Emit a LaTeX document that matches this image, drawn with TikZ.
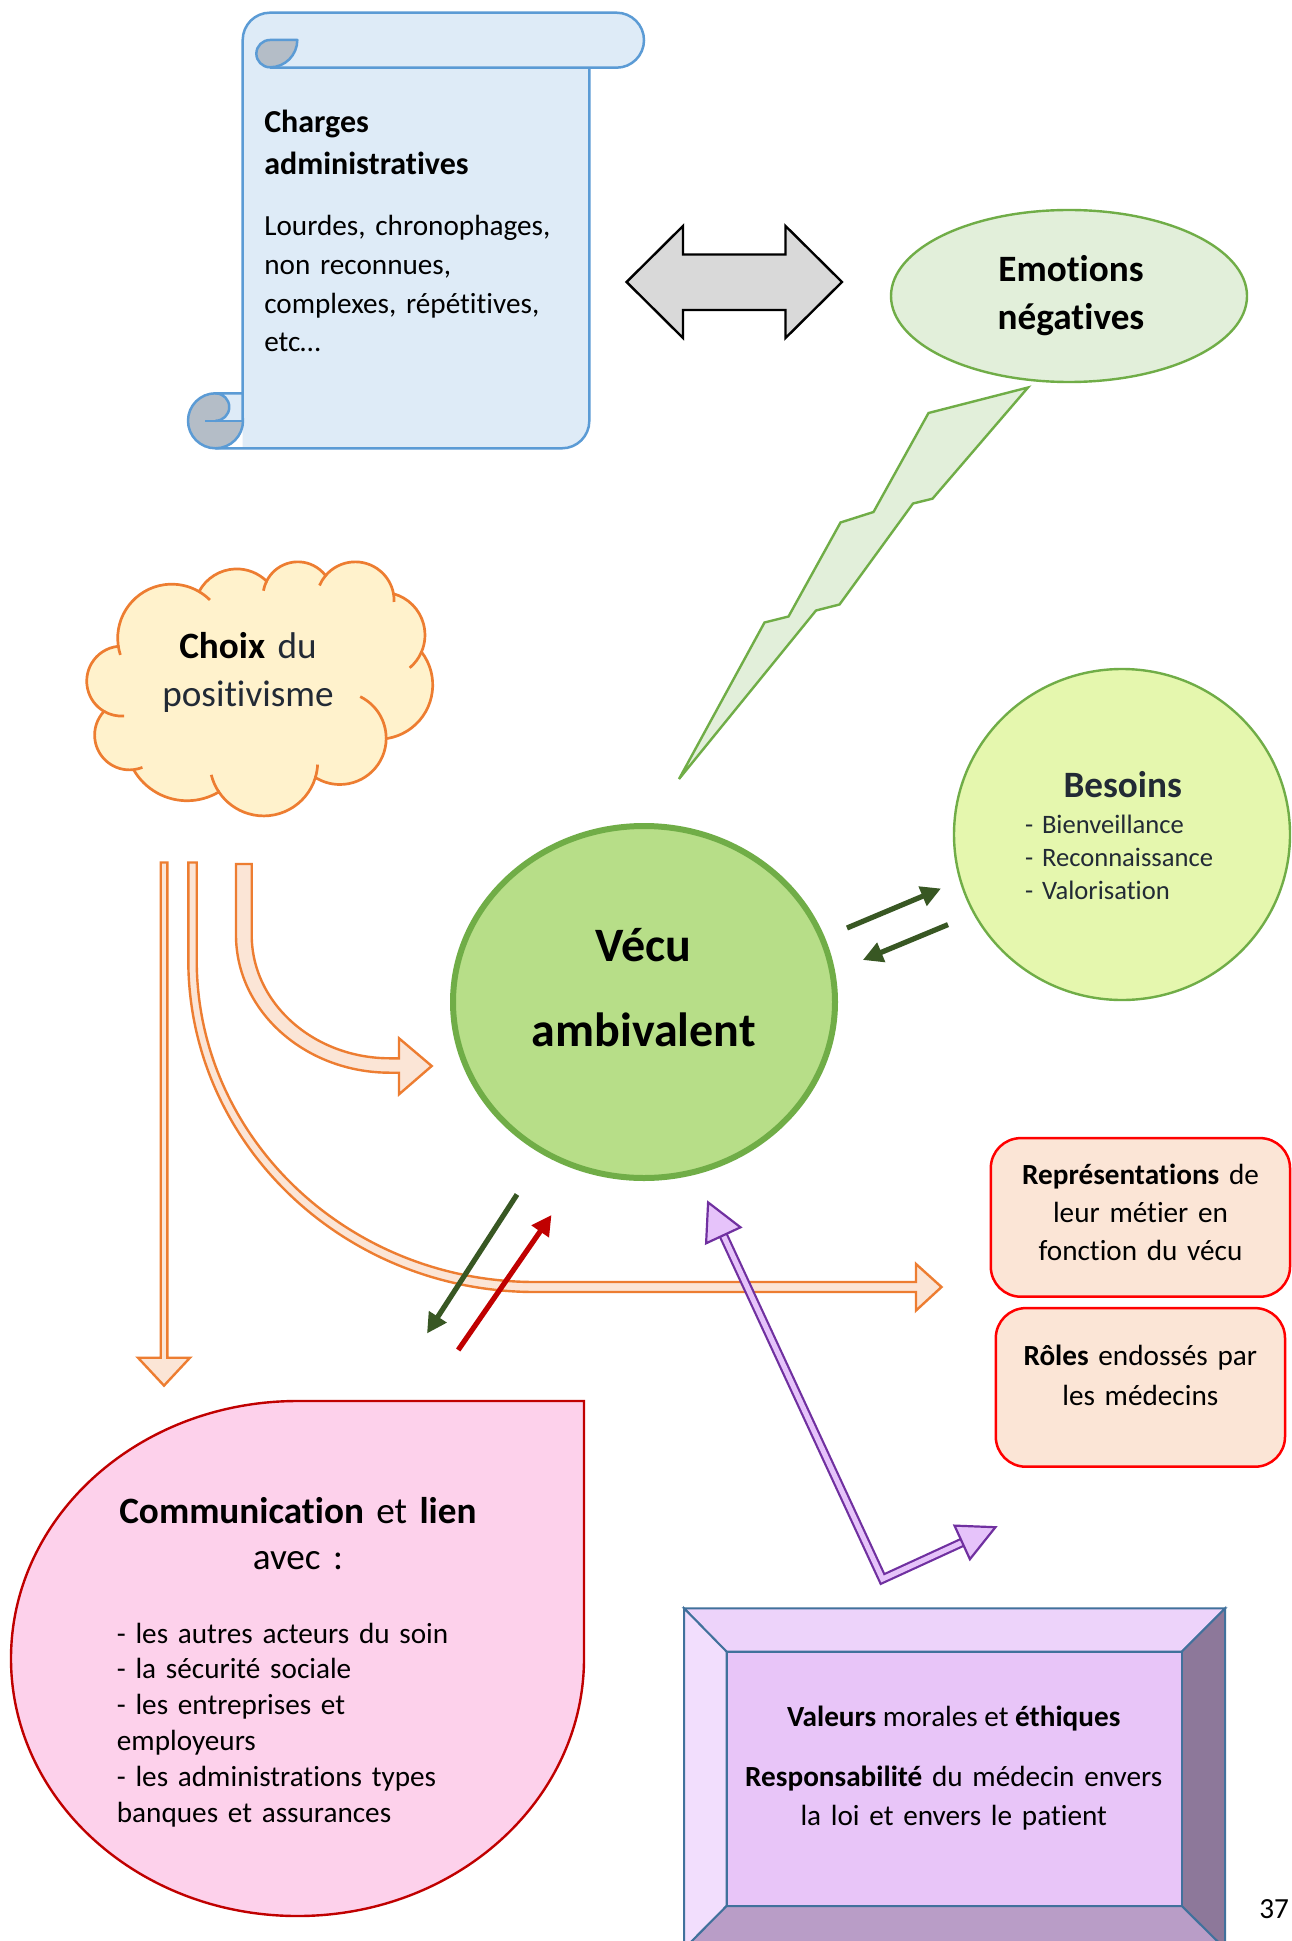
\documentclass[tikz,border=0pt]{standalone}
\usepackage{fontspec}
\setmainfont{Carlito}[Ligatures=CommonOff]
\usetikzlibrary{shapes.geometric,arrows.meta}
\definecolor{scrollfill}{RGB}{222,235,247}
\definecolor{scrollblue}{RGB}{91,155,213}
\definecolor{scrollgray}{RGB}{180,189,199}
\definecolor{leafgreen}{RGB}{112,173,71}
\definecolor{emofill}{RGB}{226,239,218}
\definecolor{vecufill}{RGB}{183,222,136}
\definecolor{besfill}{RGB}{229,247,174}
\definecolor{darktext}{RGB}{34,42,53}
\definecolor{cloudfill}{RGB}{255,242,204}
\definecolor{orline}{RGB}{237,125,49}
\definecolor{orfill}{RGB}{251,229,214}
\definecolor{dkgreen}{RGB}{56,87,35}
\definecolor{redarrow}{RGB}{192,0,0}
\definecolor{purpline}{RGB}{112,48,160}
\definecolor{lavender}{RGB}{230,195,250}
\definecolor{tearfill}{RGB}{253,209,235}
\definecolor{bevline}{RGB}{65,113,156}
\definecolor{bevtop}{RGB}{237,211,250}
\definecolor{bevleft}{RGB}{242,222,253}
\definecolor{bevmid}{RGB}{232,197,248}
\definecolor{bevright}{RGB}{141,120,154}
\definecolor{bevbottom}{RGB}{185,157,199}
\definecolor{dblgray}{RGB}{217,217,217}
\begin{document}
\begin{tikzpicture}[x=0.5pt,y=-0.5pt,
  txt/.style={inner sep=0pt,outer sep=0pt},
  scrolldraw/.style={draw=scrollblue,line width=1.25pt,line join=round},
  orangearrow/.style={fill=orfill,draw=orline,line width=1.2pt,line join=miter},
  cloudst/.style={fill=cloudfill,draw=orline,line width=1.35pt},
  cloudtick/.style={draw=orline,line width=1.35pt},
  thinarrow/.style={line width=2.6pt,-{Triangle[length=10pt,width=10pt]}},
  purpband/.style={draw=purpline,line width=1.1pt,double=lavender,double distance=2.55pt,line join=miter},
  purphead/.style={fill=lavender,draw=purpline,line width=1.1pt,line join=miter},
  roundbox/.style={rectangle,rounded corners=15pt,fill=orfill,draw=red,line width=1.25pt,minimum width=149.6pt,minimum height=79.3pt,inner sep=0pt},
  bevface/.style={draw=bevline,line width=1pt,line join=miter}
]
\useasboundingbox (0,0) rectangle (1291,1941);
\fill[white] (0,0) rectangle (1291,1941);

% ---------------- scroll ----------------
\fill[scrollfill] (242.7,40) -- (242.7,448.3) -- (562,448.3) arc[start angle=90,end angle=0,radius=27.3] -- (589.3,40) -- cycle;
\fill[scrollfill] (242.7,40) arc[start angle=180,end angle=270,radius=27.3] -- (616.5,12.7) arc[start angle=-90,end angle=90,radius=27.5] -- (270,67.7) arc[start angle=90,end angle=180,radius=27.3] -- cycle;
\draw[scrolldraw] (242.7,40) arc[start angle=180,end angle=270,radius=27.3] -- (616.5,12.7) arc[start angle=-90,end angle=90,radius=27.5] -- (270,67.7);
\draw[scrolldraw,fill=scrollgray] (297.3,40) arc[start angle=0,end angle=90,radius=27.3] arc[start angle=90,end angle=270,radius=13.65] -- cycle;
\draw[scrolldraw,fill=scrollgray] (215.5,420.8) circle[radius=27.5];
\fill[scrollfill] (215.5,393.3) -- (242.7,393.3) -- (242.7,420.8) -- (215.5,420.8) arc[start angle=90,end angle=-90,radius=13.75] -- cycle;
\draw[scrolldraw] (242.7,393.3) -- (215.5,393.3) arc[start angle=-90,end angle=90,radius=13.75];
\draw[scrolldraw] (205,420.8) -- (242.7,420.8);
\draw[scrolldraw] (242.7,40) -- (242.7,421) (215.5,448.3) -- (562,448.3) arc[start angle=90,end angle=0,radius=27.3] -- (589.3,67.7);
\node[txt,anchor=base west,text width=170pt,align=left,font=\fontsize{16}{21.15}\selectfont\bfseries] (chtitle) at (264.3,132.7) {Charges\\administratives};
\node[txt,anchor=base west,text width=170pt,align=left,font=\fontsize{14.6}{19.33}\selectfont] (chbody) at (264.3,235.7) {Lourdes, chronophages,\\non reconnues,\\complexes, répétitives,\\etc…};

% ---------------- double arrow ----------------
\draw[fill=dblgray,draw=black,line width=1.2pt,line join=miter] (626.6,282) -- (683,226) -- (683,254.5) -- (785.5,254.5) -- (785.5,226) -- (842,282) -- (785.5,338) -- (785.5,310) -- (683,310) -- (683,338) -- cycle;

% ---------------- emotions ----------------
\node[ellipse,draw=leafgreen,fill=emofill,line width=1.2pt,minimum width=178pt,minimum height=86pt,inner sep=0pt] (emo) at (1069,296) {};
\node[txt,anchor=base,text width=200pt,align=center,font=\fontsize{18.6}{24}\selectfont\bfseries] (emotext) at (1071,281.8) {Emotions\\négatives};
\draw[fill=emofill,draw=leafgreen,line width=1.2pt,line join=miter] (1028,387.5) -- (928.5,413) -- (873.5,512) -- (840.5,522.5) -- (788.5,616.5) -- (764.5,622.5) -- (679,779) -- (816,610.5) -- (839.5,604.5) -- (913,503.5) -- (932.5,498.7) -- cycle;

% ---------------- cloud ----------------
\begin{scope}[shift={(87,561)},xscale=0.8,yscale=0.588]
\draw[cloudst] (39.00,143.70)
 arc[start angle=-187.75,delta angle=128.11,x radius=67.53,y radius=91.90]
 arc[start angle=-151.98,delta angle=106.47,x radius=53.33,y radius=72.67]
 arc[start angle=-153.46,delta angle=116.10,x radius=43.65,y radius=59.45]
 arc[start angle=-139.76,delta angle=129.57,x radius=48.57,y radius=65.95]
 arc[start angle=-74.80,delta angle=98.06,x radius=53.33,y radius=72.73]
 arc[start angle=-37.52,delta angle=119.38,x radius=67.75,y radius=92.20]
 arc[start angle=0.46,delta angle=121.53,x radius=57.85,y radius=78.67]
 arc[start angle=16.89,delta angle=129.25,x radius=67.52,y radius=92.15]
 arc[start angle=59.08,delta angle=91.02,x radius=77.20,y radius=105.43]
 arc[start angle=-276.71,delta angle=139.75,x radius=43.60,y radius=59.18]
 arc[start angle=-239.79,delta angle=143.93,x radius=43.45,y radius=59.45]
 -- cycle;
\draw[cloudtick] (105.92,131.30) ++(-198:67.53 and 91.90) arc[start angle=-198,end angle=-187.75,x radius=67.53,y radius=91.90];
\draw[cloudtick] (105.92,131.30) ++(-59.64:67.53 and 91.90) arc[start angle=-59.64,end angle=-45,x radius=67.53,y radius=91.90];
\draw[cloudtick] (263.55,60.87) ++(-170:43.65 and 59.45) arc[start angle=-170,end angle=-153.46,x radius=43.65,y radius=59.45];
\draw[cloudtick] (335.31,67.41) ++(-157:48.57 and 65.95) arc[start angle=-157,end angle=-139.76,x radius=48.57,y radius=65.95];
\draw[cloudtick] (335.31,67.41) ++(-10.19:48.57 and 65.95) arc[start angle=-10.19,end angle=2,x radius=48.57,y radius=65.95];
\draw[cloudtick] (369.13,125.92) ++(23.26:53.33 and 72.73) arc[start angle=23.26,end angle=50,x radius=53.33,y radius=72.73];
\draw[cloudtick] (316.11,301.42) ++(-64:57.85 and 78.67) arc[start angle=-64,end angle=0.46,x radius=57.85,y radius=78.67];
\draw[cloudtick] (220.85,341.37) ++(3:67.52 and 92.15) arc[start angle=3,end angle=16.89,x radius=67.52,y radius=92.15];
\draw[cloudtick] (220.85,341.37) ++(146.14:67.52 and 92.15) arc[start angle=146.14,end angle=166,x radius=67.52,y radius=92.15];
\draw[cloudtick] (53.10,296.05) ++(68.2:43.60 and 59.18) arc[start angle=68.2,end angle=83.3,x radius=43.60,y radius=59.18];
\draw[cloudtick] (43.08,204.29) ++(85.5:43.45 and 59.45) arc[start angle=85.5,end angle=120.2,x radius=43.45,y radius=59.45];
\end{scope}
\node[txt,anchor=base,text width=200pt,align=center,font=\fontsize{18.6}{24.2}\selectfont] (choix) at (248,658.3) {\textbf{Choix} \textcolor{darktext}{du}\\\textcolor{darktext}{positivisme}};

% ---------------- orange arrows ----------------
\draw[orangearrow] (160.7,862.5) -- (167.3,862.5) -- (167.3,1357.7) -- (190,1357.7) -- (164,1385.6) -- (138,1357.7) -- (160.7,1357.7) -- cycle;
\draw[orangearrow] (188.3,862.5) -- (188.3,960) arc[start angle=180,end angle=90,x radius=346.7,y radius=332] -- (916,1292) -- (916,1310.5) -- (941.5,1287) -- (916,1264) -- (916,1282) -- (535,1282) arc[start angle=90,end angle=180,x radius=338.3,y radius=322] -- (196.7,862.5) -- cycle;
\draw[orangearrow] (236,864) -- (236,935) arc[start angle=180,end angle=90,x radius=154,y radius=137.7] -- (399,1072.7) -- (399,1094.3) -- (431.7,1066) -- (399,1038.3) -- (399,1058.3) -- (390,1058.3) arc[start angle=90,end angle=180,x radius=138.3,y radius=123.3] -- (251.7,864) -- cycle;

% ---------------- Vecu ----------------
\node[ellipse,draw=leafgreen,fill=vecufill,line width=3pt,minimum width=191pt,minimum height=176pt,inner sep=0pt] (vecu) at (644,1002) {};
\node[txt,anchor=base,text width=200pt,align=center,font=\fontsize{24}{42.5}\selectfont\bfseries] (vecutext) at (643.7,961.4) {Vécu\\ambivalent};

% ---------------- Besoins ----------------
\node[ellipse,draw=leafgreen,fill=besfill,line width=1.2pt,minimum width=168pt,minimum height=165.5pt,inner sep=0pt] (besoins) at (1122,834.5) {};
\node[txt,anchor=base,font=\fontsize{18.6}{22}\selectfont\bfseries,text=darktext] (bestitle) at (1122.7,797.7) {Besoins};
\node[txt,anchor=base west,text width=120pt,align=left,font=\fontsize{13.3}{16.5}\selectfont,text=darktext] (beslist) at (1025,833.3) {- Bienveillance\\- Reconnaissance\\- Valorisation};

\coordinate (g1s) at (847,928);
\coordinate (g1e) at (941,888.5);
\coordinate (g2s) at (948,924.6);
\coordinate (g2e) at (862.8,960);
\draw[thinarrow,draw=dkgreen,fill=dkgreen] (g1s) -- (g1e);
\draw[thinarrow,draw=dkgreen,fill=dkgreen] (g2s) -- (g2e);

% ---------------- boxes right ----------------
\node[roundbox] (repr) at (1140.4,1217.4) {};
\node[txt,anchor=base,text width=150pt,align=center,font=\fontsize{14.6}{19}\selectfont] (reprtext) at (1140.5,1184) {\textbf{Représentations} de\\leur métier en\\fonction du vécu};
\node[roundbox,minimum width=144.6pt] (roles) at (1140.4,1387.4) {};
\node[txt,anchor=base,text width=150pt,align=center,font=\fontsize{14.6}{20}\selectfont] (rolestext) at (1140.3,1365) {\textbf{Rôles} endossés par\\les médecins};

% ---------------- small arrows bottom ----------------
\coordinate (dgs) at (517,1194.5);
\coordinate (dge) at (427,1333.5);
\coordinate (rs) at (458.2,1350);
\coordinate (re) at (551.5,1215);
\draw[thinarrow,draw=dkgreen,fill=dkgreen] (dgs) -- (dge);
\draw[thinarrow,draw=redarrow,fill=redarrow] (rs) -- (re);

% ---------------- purple bent arrow ----------------
\coordinate (ph1) at (723.3,1235.3);
\coordinate (pbend) at (882.5,1579);
\coordinate (ph2) at (962.2,1542.4);
\draw[purpband] (ph1) -- (pbend) -- (ph2);
\draw[purphead] (708.1,1202.4) -- (740.5,1227.3) -- (706.1,1243.3) -- cycle;
\draw[purphead] (995.4,1527.2) -- (969.9,1559.2) -- (954.5,1525.6) -- cycle;

% ---------------- teardrop ----------------
\draw[fill=tearfill,draw=redarrow,line width=1.2pt,line join=miter] (11,1658.5) arc[start angle=180,end angle=270,x radius=286.5,y radius=257.5] -- (584,1401) -- (584,1658.5) arc[start angle=0,end angle=180,x radius=286.5,y radius=257.5] -- cycle;
\node[txt,anchor=base,text width=260pt,align=center,font=\fontsize{18.6}{22.85}\selectfont] (comtitle) at (297.9,1523.5) {\textbf{Communication} et \textbf{lien}\\avec :};
\node[txt,anchor=base west,text width=200pt,align=left,font=\fontsize{14.6}{17.95}\selectfont] (comlist) at (116.9,1643) {- les autres acteurs du soin\\- la sécurité sociale\\- les entreprises et\\employeurs\\- les administrations types\\banques et assurances};

% ---------------- bevel ----------------
\draw[bevface,fill=bevtop] (684,1608.3) -- (1225.2,1608.3) -- (1181.7,1651.7) -- (726.6,1651.7) -- cycle;
\draw[bevface,fill=bevleft] (684,1608.3) -- (726.6,1651.7) -- (726.6,1906) -- (684,1949) -- cycle;
\draw[bevface,fill=bevright] (1225.2,1608.3) -- (1225.2,1949) -- (1181.7,1906) -- (1181.7,1651.7) -- cycle;
\draw[bevface,fill=bevbottom] (684,1949) -- (726.6,1906) -- (1181.7,1906) -- (1225.2,1949) -- cycle;
\draw[bevface,fill=bevmid] (726.6,1651.7) rectangle (1181.7,1906);
\node[txt,anchor=base,font=\fontsize{14.6}{19}\selectfont] (valeurs) at (953.7,1726.7) {\textbf{Valeurs} morales et \textbf{éthiques}};
\node[txt,anchor=base,text width=220pt,align=center,font=\fontsize{14.6}{19.15}\selectfont] (respons) at (953.7,1786.7) {\textbf{Responsabilité} du médecin envers\\la loi et envers le patient};

\node[txt,anchor=base east,font=\fontsize{14.6}{19}\selectfont] (pagenum) at (1289,1918.3) {37};
\end{tikzpicture}
\end{document}
